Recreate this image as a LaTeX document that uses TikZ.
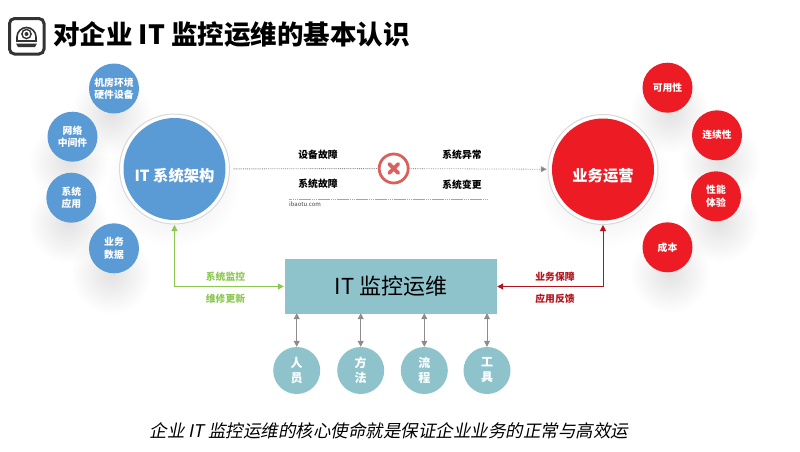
\documentclass[tikz,border=0pt]{standalone}
\usepackage{fontspec}
\setmainfont{Noto Sans CJK SC}
\newfontfamily\slantfont[FakeSlant=0.2]{Noto Sans CJK SC}
\usetikzlibrary{arrows.meta,fadings}

\definecolor{itblue}{HTML}{5B9BD5}
\definecolor{bizred}{HTML}{ED1C24}
\definecolor{opsteal}{HTML}{8FC3CC}
\definecolor{linkgreen}{HTML}{8CC850}
\definecolor{linkred}{HTML}{B5121B}
\definecolor{crossred}{HTML}{D9605C}

\tikzfading[name=softfade, inner color=transparent!70, outer color=transparent!100]

\tikzset{
  bigdot/.style={circle,minimum size=102pt,inner sep=0pt},
  bigring/.style={fill=white,draw=gray!30,line width=1pt},
  bigtext/.style={inner sep=0pt,text=white,font=\fontsize{15.3}{18}\selectfont\bfseries},
  smalldot/.style={circle,minimum size=50pt,inner sep=0pt,text=white,align=center,font=\fontsize{9.8}{12.2}\selectfont\bfseries},
  teamdot/.style={circle,minimum size=47pt,fill=opsteal,inner sep=0pt,text=white,align=center,font=\fontsize{12}{15}\selectfont\bfseries},
  faultlabel/.style={font=\fontsize{9.8}{12}\selectfont\bfseries},
  linklabel/.style={font=\fontsize{9.8}{12}\selectfont\bfseries},
  greyarrow/.style={draw=gray!90,line width=0.8pt,{Triangle[length=6pt,width=6pt]}-{Triangle[length=6pt,width=6pt]}}
}

\begin{document}
\begin{tikzpicture}[x=1pt,y=-1pt]
  \useasboundingbox (0,0) rectangle (800,451);

  % Soft shadows
  \foreach \x/\y in {111/114, 69/162, 68/223, 111/274, 670/113, 720/161, 719/222, 670/273}
    \fill[black,path fading=softfade,fill opacity=0.38] (\x,\y) circle (40);
  \foreach \x in {174,603}
    \fill[black,path fading=softfade,fill opacity=0.35] (\x,180) circle (68);

  % Title
  \draw[draw=black!80,line width=3pt,fill=white,rounded corners=5pt] (9.5,18.5) rectangle (44,54);
  \draw[black!80,line width=1.6pt] (17,41) -- (17,37) arc (180:360:9.5) -- (36,41) -- cycle;
  \draw[black!80,line width=1.4pt] (26.5,34) circle (4.6);
  \fill[black!80] (26.5,34) circle (2);
  \fill[black!80] (16,43.5) -- (37,43.5) -- (35,47) -- (18,47) -- cycle;
  \node[anchor=west,inner sep=0pt,font=\fontsize{26.5}{30}\selectfont\bfseries] (title) at (53,35) {对企业 IT 监控运维的基本认识};

  % Big circles
  \fill[bigring] (174.5,169) circle (55);
  \node[bigdot,fill=itblue] (arch) at (174.5,169) {};
  \node[bigtext] (archtext) at (174.5,176) {IT 系统架构};
  \fill[bigring] (603,169.5) circle (55);
  \node[bigdot,fill=bizred] (biz) at (603,169.5) {};
  \node[bigtext] (biztext) at (603,176) {业务运营};

  % Small circles
  \foreach \name/\x/\y/\txt in {a/114/88.5/机房环境\\硬件设备, b/72.5/136.7/网络\\中间件, c/71.3/197.7/系统\\应用, d/114/248.3/业务\\数据}
    \node[smalldot,fill=itblue] (\name) at (\x,\y) {\txt};
  \foreach \name/\x/\y/\txt in {e/667.5/87.7/可用性, f/717/135.3/连续性, g/716/196.3/性能\\体验, h/667.5/247.3/成本}
    \node[smalldot,fill=bizred] (\name) at (\x,\y) {\txt};

  % Fault line
  \node[circle,draw=crossred,fill=white,line width=2.8pt,minimum size=29pt,inner sep=0pt] (cross) at (393.7,168.5) {};
  \draw[crossred,line width=3.8pt,line cap=round] (389.2,164) -- (398.2,173) (389.2,173) -- (398.2,164);
  \draw[gray!90,densely dotted,line width=0.9pt,shorten <=8pt] (arch) -- (cross);
  \draw[gray!80,densely dotted,line width=0.8pt,shorten >=5pt,-{Triangle[length=6pt,width=6pt,fill=gray]}] (cross) -- (biz);
  \node[faultlabel] (fa) at (318,154.5) {设备故障};
  \node[faultlabel] (fb) at (318,184) {系统故障};
  \node[faultlabel] (fc) at (462,154.5) {系统异常};
  \node[faultlabel] (fd) at (462,184.5) {系统变更};
  \draw[black!35,line width=0.8pt,dash pattern=on 1.5pt off 0.4pt] (289,199) -- (487,199);
  \node[anchor=west,inner sep=0pt,text=black!75,font=\fontsize{6}{7}\selectfont] (site) at (289,204) {ibaotu.com};

  % Central box
  \node[fill=opsteal,minimum width=212pt,minimum height=55pt,inner sep=0pt,font=\fontsize{22}{26}\selectfont] (ops) at (391,286.5) {IT 监控运维};

  % Green and red links
  \draw[linkgreen,line width=1pt,{Triangle[length=6pt,width=6pt]}-{Triangle[length=6pt,width=6pt]}] (arch.south |- 0,225) |- ([xshift=-1pt]ops.west);
  \draw[linkred,line width=1pt,{Triangle[length=6pt,width=6pt]}-{Triangle[length=6pt,width=6pt]}] (biz.south |- 0,225) |- (ops.east);
  \node[linklabel,text=linkgreen] (ga) at (225.5,277) {系统监控};
  \node[linklabel,text=linkgreen] (gb) at (225.5,298.5) {维修更新};
  \node[linklabel,text=linkred] (ra) at (555,277) {业务保障};
  \node[linklabel,text=linkred] (rb) at (555,298.5) {应用反馈};

  % Team circles
  \foreach \name/\x/\txt in {people/296.7/人\\员, method/360.7/方\\法, flow/424.3/流\\程, tool/487/工\\具}{
    \node[teamdot] (\name) at (\x,370.5) {\txt};
    \draw[greyarrow] (\name.north) -- ([yshift=1pt]\name.north |- ops.south);
  }

  % Bottom line
  \node[inner sep=0pt,font=\slantfont\fontsize{17.5}{20}\selectfont] (motto) at (389,431) {企业 IT 监控运维的核心使命就是保证企业业务的正常与高效运};
\end{tikzpicture}
\end{document}
